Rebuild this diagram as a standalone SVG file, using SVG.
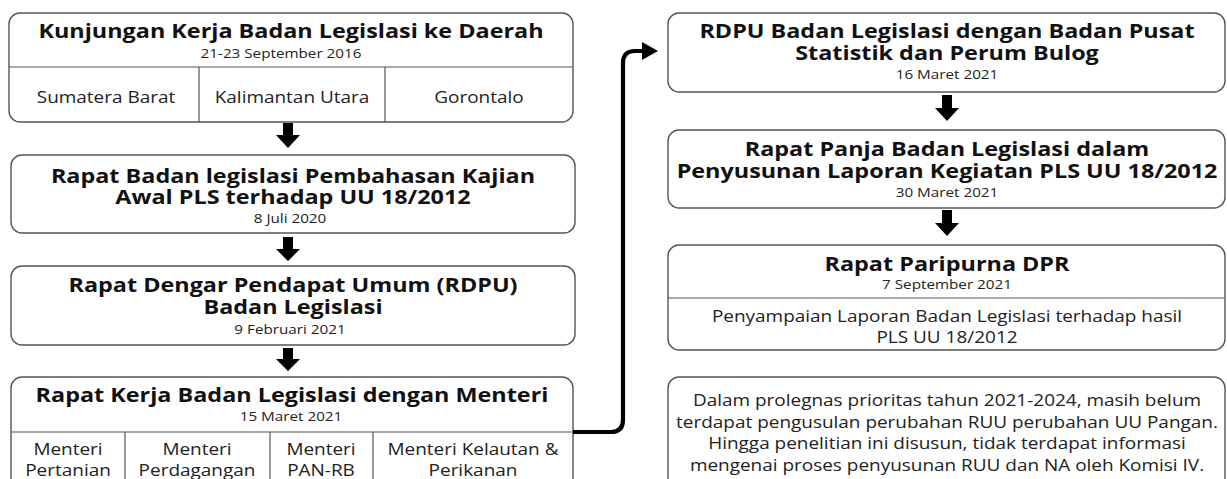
<svg xmlns="http://www.w3.org/2000/svg" width="1227" height="479" viewBox="0 0 1227 479">
<defs>
<style>
.box{fill:#fff;stroke:#555;stroke-width:1.4}
.div{stroke:#555;stroke-width:1.2;fill:none}
.t{font-family:"Open Sans","Liberation Sans",sans-serif;font-weight:700;font-size:19.5px;fill:#111;text-anchor:middle}
.d{font-family:"Open Sans","Liberation Sans",sans-serif;font-size:12.7px;fill:#222;text-anchor:middle}
.c{font-family:"Open Sans","Liberation Sans",sans-serif;font-size:15.8px;fill:#222;text-anchor:middle}
.ar{fill:#000}
</style>
</defs>
<rect width="1227" height="479" fill="#fff"/>

<g id="node-kunjungan">
<rect class="box" x="9" y="13" width="564" height="109" rx="11"/>
<line class="div" x1="9" y1="67" x2="573" y2="67"/>
<line class="div" x1="199" y1="67" x2="199" y2="122"/>
<line class="div" x1="385" y1="67" x2="385" y2="122"/>
<text class="t" transform="matrix(1.2 0 0 1 291 38)">Kunjungan Kerja Badan Legislasi ke Daerah</text>
<text class="d" transform="matrix(1.2 0 0 1 281 58)">21-23 September 2016</text>
<text class="c" transform="matrix(1.2 0 0 1 106 103)">Sumatera Barat</text>
<text class="c" transform="matrix(1.2 0 0 1 292 103)">Kalimantan Utara</text>
<text class="c" transform="matrix(1.2 0 0 1 479 103)">Gorontalo</text>
</g>

<g id="node-rapat-kajian">
<rect class="box" x="11" y="155" width="564" height="78" rx="11"/>
<text class="t" transform="matrix(1.2 0 0 1 293 183)">Rapat Badan legislasi Pembahasan Kajian</text>
<text class="t" transform="matrix(1.2 0 0 1 293 204)">Awal PLS terhadap UU 18/2012</text>
<text class="d" transform="matrix(1.2 0 0 1 290 223)">8 Juli 2020</text>
</g>

<g id="node-rdpu">
<rect class="box" x="11" y="266" width="564" height="79" rx="11"/>
<text class="t" transform="matrix(1.2 0 0 1 293 292)">Rapat Dengar Pendapat Umum (RDPU)</text>
<text class="t" transform="matrix(1.2 0 0 1 293 314)">Badan Legislasi</text>
<text class="d" transform="matrix(1.2 0 0 1 290 334)">9 Februari 2021</text>
</g>

<g id="node-raker">
<rect class="box" x="11" y="377" width="562" height="120" rx="11"/>
<line class="div" x1="11" y1="432" x2="573" y2="432"/>
<line class="div" x1="125" y1="432" x2="125" y2="479"/>
<line class="div" x1="270" y1="432" x2="270" y2="479"/>
<line class="div" x1="373" y1="432" x2="373" y2="479"/>
<text class="t" transform="matrix(1.2 0 0 1 292 402)">Rapat Kerja Badan Legislasi dengan Menteri</text>
<text class="d" transform="matrix(1.2 0 0 1 291 421)">15 Maret 2021</text>
<text class="c" transform="matrix(1.2 0 0 1 68 455)">Menteri</text>
<text class="c" transform="matrix(1.2 0 0 1 68 476)">Pertanian</text>
<text class="c" transform="matrix(1.2 0 0 1 197 455)">Menteri</text>
<text class="c" transform="matrix(1.2 0 0 1 197 476)">Perdagangan</text>
<text class="c" transform="matrix(1.2 0 0 1 321 455)">Menteri</text>
<text class="c" transform="matrix(1.2 0 0 1 321 476)">PAN-RB</text>
<text class="c" transform="matrix(1.2 0 0 1 473 455)">Menteri Kelautan &amp;</text>
<text class="c" transform="matrix(1.2 0 0 1 473 476)">Perikanan</text>
</g>

<g id="node-rdpu-bps">
<rect class="box" x="668" y="13" width="557" height="79" rx="11"/>
<text class="t" transform="matrix(1.2 0 0 1 947 38)">RDPU Badan Legislasi dengan Badan Pusat</text>
<text class="t" transform="matrix(1.2 0 0 1 947 60)">Statistik dan Perum Bulog</text>
<text class="d" transform="matrix(1.2 0 0 1 947 79)">16 Maret 2021</text>
</g>

<g id="node-panja">
<rect class="box" x="668" y="130" width="557" height="78" rx="11"/>
<text class="t" transform="matrix(1.2 0 0 1 947 156)">Rapat Panja Badan Legislasi dalam</text>
<text class="t" transform="matrix(1.2 0 0 1 947 178)">Penyusunan Laporan Kegiatan PLS UU 18/2012</text>
<text class="d" transform="matrix(1.2 0 0 1 947 197)">30 Maret 2021</text>
</g>

<g id="node-paripurna">
<rect class="box" x="668" y="245" width="557" height="105" rx="11"/>
<line class="div" x1="668" y1="298" x2="1225" y2="298"/>
<text class="t" transform="matrix(1.2 0 0 1 947 271)">Rapat Paripurna DPR</text>
<text class="d" transform="matrix(1.2 0 0 1 947 289)">7 September 2021</text>
<text class="c" transform="matrix(1.2 0 0 1 947 322)">Penyampaian Laporan Badan Legislasi terhadap hasil</text>
<text class="c" transform="matrix(1.2 0 0 1 947 343)">PLS UU 18/2012</text>
</g>

<g id="node-catatan">
<rect class="box" x="668" y="377" width="557" height="120" rx="11"/>
<text class="c" transform="matrix(1.2 0 0 1 947 406)">Dalam prolegnas prioritas tahun 2021-2024, masih belum</text>
<text class="c" transform="matrix(1.2 0 0 1 947 428)">terdapat pengusulan perubahan RUU perubahan UU Pangan.</text>
<text class="c" transform="matrix(1.2 0 0 1 947 449)">Hingga penelitian ini disusun, tidak terdapat informasi</text>
<text class="c" transform="matrix(1.2 0 0 1 947 471)">mengenai proses penyusunan RUU dan NA oleh Komisi IV.</text>
</g>

<g id="connectors">
<path class="ar" d="M283,123 H293 V135 H300 L288,148 L276,135 H283 Z"/>
<path class="ar" d="M283,237 H293 V249 H300 L288,261 L276,249 H283 Z"/>
<path class="ar" d="M283,348 H293 V359 H300 L288,371 L276,359 H283 Z"/>
<path class="ar" d="M942,95 H952 V108 H959 L947,121 L935,108 H942 Z"/>
<path class="ar" d="M942,210 H952 V223 H959 L947,236 L935,223 H942 Z"/>
<path d="M573,432 H611 Q623,432 623,420 V63 Q623,51 635,51 H644" fill="none" stroke="#000" stroke-width="4.2"/>
<path class="ar" d="M642,42 L658,51 L642,60 Z"/>
</g>
</svg>
